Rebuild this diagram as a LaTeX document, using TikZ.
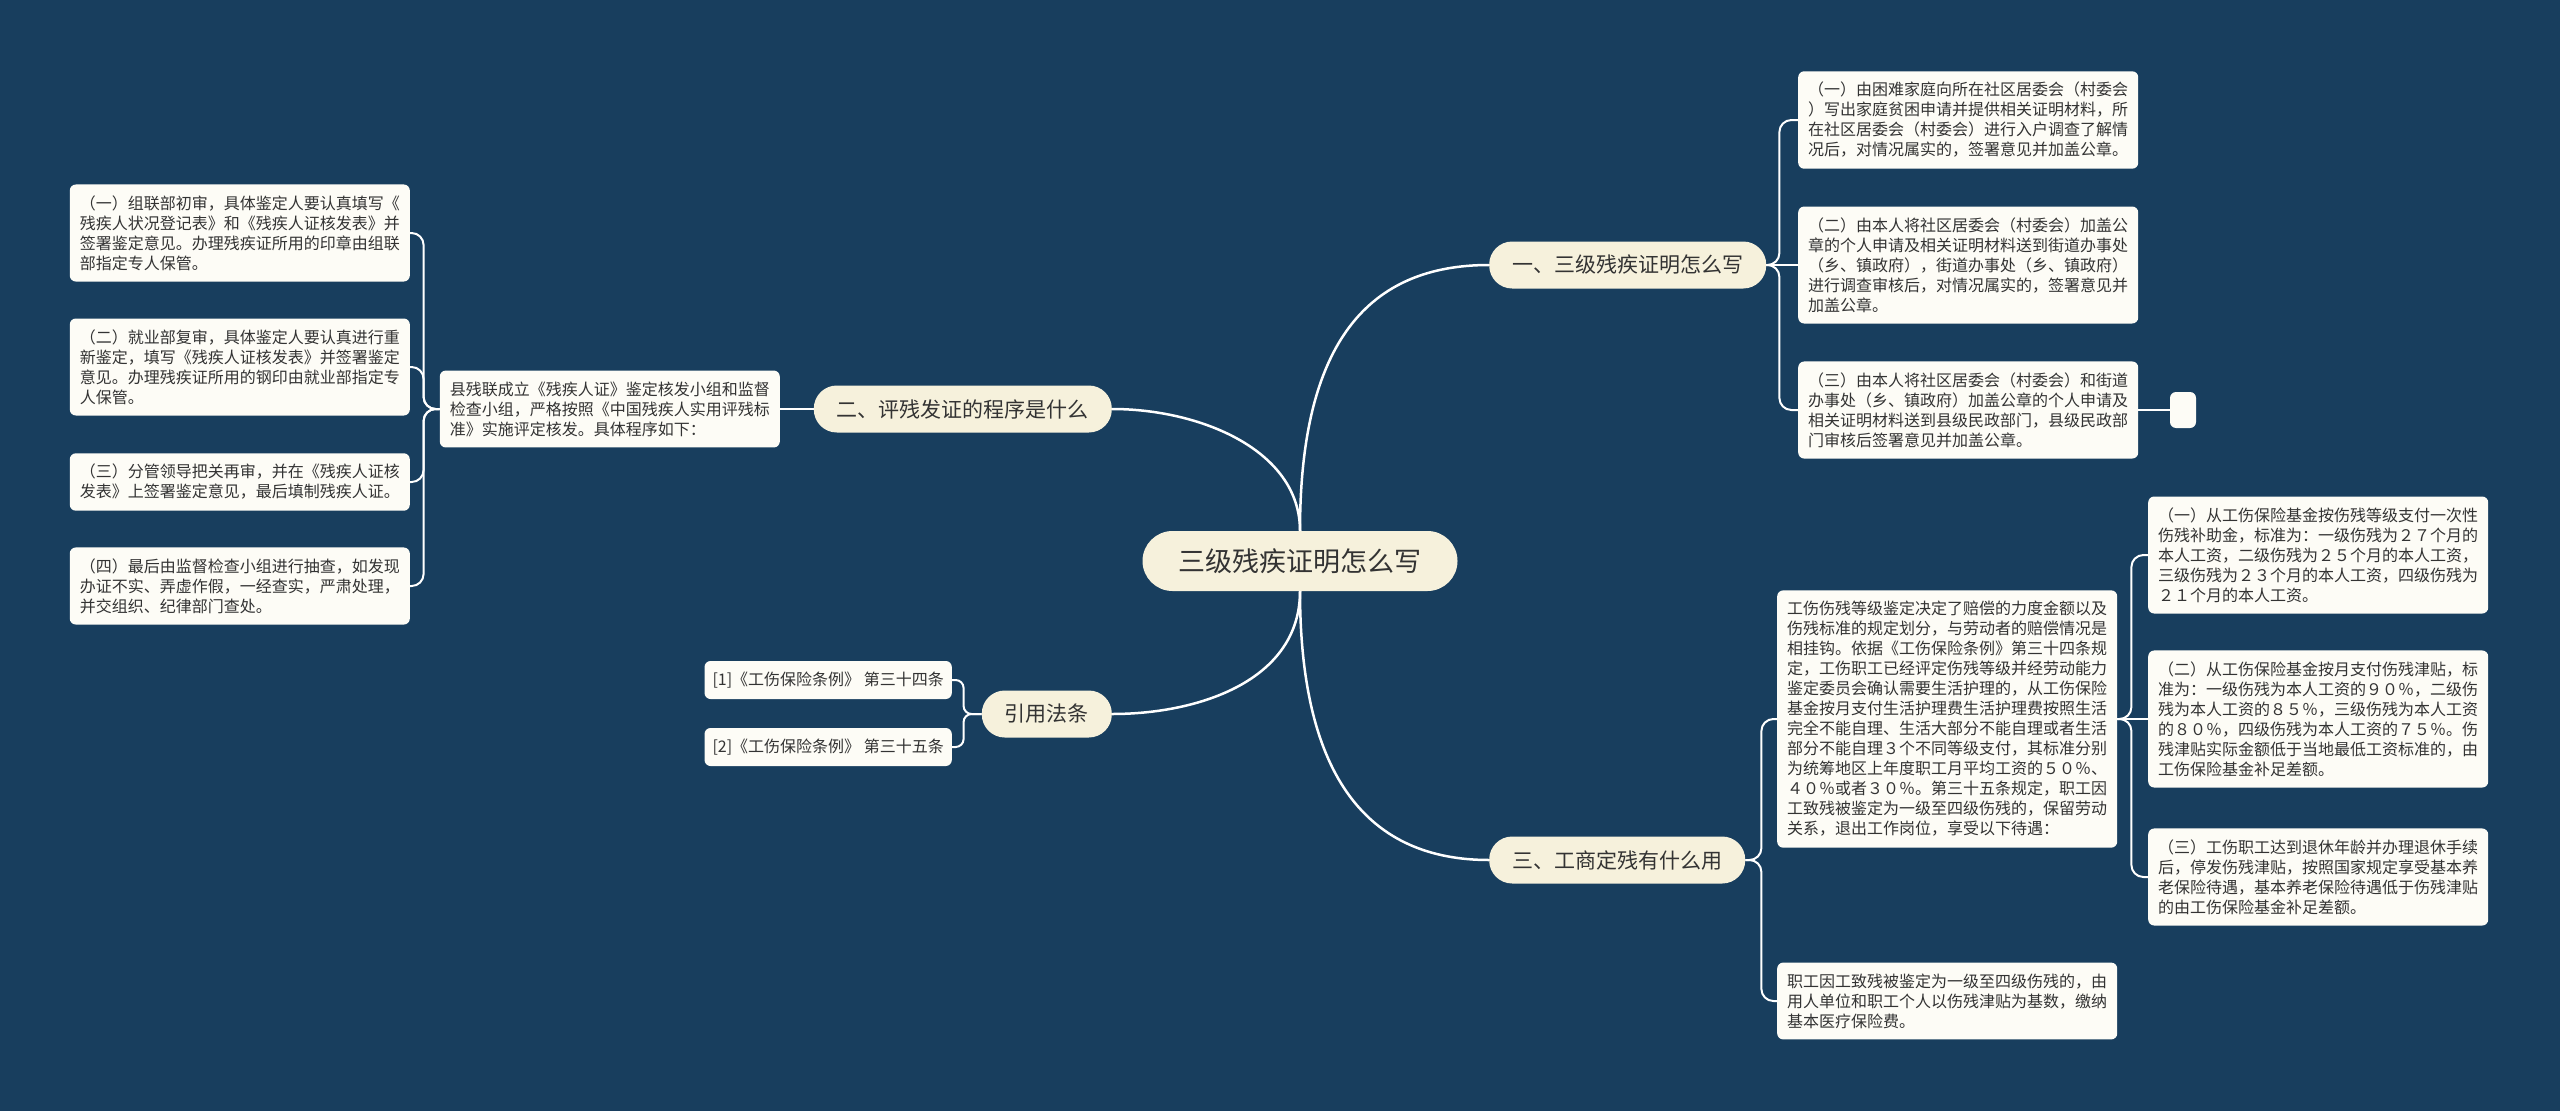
\documentclass[tikz,border=0pt]{standalone}
\usepackage{fontspec}
\setmainfont{Noto Sans CJK SC}
\definecolor{bgc}{HTML}{183E5E}
\definecolor{leafc}{HTML}{FDFCF6}
\definecolor{branchc}{HTML}{F6F1DC}
\definecolor{txt}{HTML}{333333}
\tikzset{
  leaf/.style={fill=leafc, rounded corners=6pt, inner xsep=10pt, inner ysep=11pt, align=left, text=txt, font=\fontsize{16}{20}\selectfont},
  ref/.style={fill=leafc, rounded corners=6pt, inner xsep=8pt, inner ysep=6pt, minimum height=38pt, text=txt, font=\fontsize{16}{20}\selectfont},
  branch/.style={fill=branchc, rounded corners=23pt, minimum height=47pt, inner xsep=23pt, text=txt, font=\fontsize{21}{25}\selectfont},
  rootnode/.style={fill=branchc, rounded corners=30pt, minimum height=60pt, inner xsep=36pt, text=txt, font=\fontsize{27}{32}\selectfont},
  conn/.style={draw=white, line width=2pt, rounded corners=12pt},
  trunk/.style={draw=white, line width=2.5pt}
}
\begin{document}
\begin{tikzpicture}[x=1pt,y=-1pt]
\fill[bgc] (0,0) rectangle (2560,1111);
\useasboundingbox (0,0) rectangle (2560,1111);

% root and branches
\node[rootnode] (root) at (1300,561) {三级残疾证明怎么写};
\node[branch, anchor=west] (b1) at (1489,265) {一、三级残疾证明怎么写};
\node[branch, anchor=east] (b2) at (1112,409) {二、评残发证的程序是什么};
\node[branch, anchor=east] (b3) at (1112,714) {引用法条};
\node[branch, anchor=west] (b4) at (1489,860) {三、工商定残有什么用};

% branch 1 children
\node[leaf, anchor=west] (c11) at (1798,120) {（一）由困难家庭向所在社区居委会（村委会\\）写出家庭贫困申请并提供相关证明材料，所\\在社区居委会（村委会）进行入户调查了解情\\况后，对情况属实的，签署意见并加盖公章。};
\node[leaf, anchor=west] (c12) at (1798,265) {（二）由本人将社区居委会（村委会）加盖公\\章的个人申请及相关证明材料送到街道办事处\\（乡、镇政府），街道办事处（乡、镇政府）\\进行调查审核后，对情况属实的，签署意见并\\加盖公章。};
\node[leaf, anchor=west] (c13) at (1798,410) {（三）由本人将社区居委会（村委会）和街道\\办事处（乡、镇政府）加盖公章的个人申请及\\相关证明材料送到县级民政部门，县级民政部\\门审核后签署意见并加盖公章。};
\node[fill=leafc, rounded corners=6pt, minimum width=26pt, minimum height=36pt, inner sep=0pt] (e1) at (2183,410) {};

% branch 2 children
\node[leaf, anchor=east] (c21) at (780,409) {县残联成立《残疾人证》鉴定核发小组和监督\\检查小组，严格按照《中国残疾人实用评残标\\准》实施评定核发。具体程序如下：};
\node[leaf, anchor=east] (c211) at (410,233) {（一）组联部初审，具体鉴定人要认真填写《\\残疾人状况登记表》和《残疾人证核发表》并\\签署鉴定意见。办理残疾证所用的印章由组联\\部指定专人保管。};
\node[leaf, anchor=east] (c212) at (410,367) {（二）就业部复审，具体鉴定人要认真进行重\\新鉴定，填写《残疾人证核发表》并签署鉴定\\意见。办理残疾证所用的钢印由就业部指定专\\人保管。};
\node[leaf, anchor=east] (c213) at (410,482) {（三）分管领导把关再审，并在《残疾人证核\\发表》上签署鉴定意见，最后填制残疾人证。};
\node[leaf, anchor=east] (c214) at (410,586) {（四）最后由监督检查小组进行抽查，如发现\\办证不实、弄虚作假，一经查实，严肃处理，\\并交组织、纪律部门查处。};

% branch 3 children
\node[ref, anchor=east] (r1) at (952,680) {[1]《工伤保险条例》 第三十四条};
\node[ref, anchor=east] (r2) at (952,747) {[2]《工伤保险条例》 第三十五条};

% branch 4 children
\node[leaf, anchor=west] (c41) at (1777,719) {工伤伤残等级鉴定决定了赔偿的力度金额以及\\伤残标准的规定划分，与劳动者的赔偿情况是\\相挂钩。依据《工伤保险条例》第三十四条规\\定，工伤职工已经评定伤残等级并经劳动能力\\鉴定委员会确认需要生活护理的，从工伤保险\\基金按月支付生活护理费生活护理费按照生活\\完全不能自理、生活大部分不能自理或者生活\\部分不能自理３个不同等级支付，其标准分别\\为统筹地区上年度职工月平均工资的５０％、\\４０％或者３０％。第三十五条规定，职工因\\工致残被鉴定为一级至四级伤残的，保留劳动\\关系，退出工作岗位，享受以下待遇：};
\node[leaf, anchor=west] (c42) at (1777,1001) {职工因工致残被鉴定为一级至四级伤残的，由\\用人单位和职工个人以伤残津贴为基数，缴纳\\基本医疗保险费。};
\node[leaf, anchor=west] (c411) at (2148,555) {（一）从工伤保险基金按伤残等级支付一次性\\伤残补助金，标准为：一级伤残为２７个月的\\本人工资，二级伤残为２５个月的本人工资，\\三级伤残为２３个月的本人工资，四级伤残为\\２１个月的本人工资。};
\node[leaf, anchor=west] (c412) at (2148,719) {（二）从工伤保险基金按月支付伤残津贴，标\\准为：一级伤残为本人工资的９０％，二级伤\\残为本人工资的８５％，三级伤残为本人工资\\的８０％，四级伤残为本人工资的７５％。伤\\残津贴实际金额低于当地最低工资标准的，由\\工伤保险基金补足差额。};
\node[leaf, anchor=west] (c413) at (2148,877) {（三）工伤职工达到退休年龄并办理退休手续\\后，停发伤残津贴，按照国家规定享受基本养\\老保险待遇，基本养老保险待遇低于伤残津贴\\的由工伤保险基金补足差额。};

% trunk connectors
\draw[trunk] (root.north) .. controls (1300,340) and (1370,265) .. (b1.west);
\draw[trunk] (root.north) .. controls (1300,450) and (1200,409) .. (b2.east);
\draw[trunk] (root.south) .. controls (1300,680) and (1200,714) .. (b3.east);
\draw[trunk] (root.south) .. controls (1300,780) and (1370,860) .. (b4.west);

% branch 1 connectors
\draw[conn] (b1.east) -- ++(13,0) |- (c11.west);
\draw[conn] (b1.east) -- (c12.west);
\draw[conn] (b1.east) -- ++(13,0) |- (c13.west);
\draw[conn] (c13.east) -- (e1.west);

% branch 2 connectors
\draw[conn] (b2.west) -- (c21.east);
\draw[conn] (c21.west) -- ++(-16,0) |- (c211.east);
\draw[conn] (c21.west) -- ++(-16,0) |- (c212.east);
\draw[conn] (c21.west) -- ++(-16,0) |- (c213.east);
\draw[conn] (c21.west) -- ++(-16,0) |- (c214.east);

% branch 3 connectors
\draw[conn, rounded corners=8pt] (b3.west) -- ++(-18,0) |- (r1.east);
\draw[conn, rounded corners=8pt] (b3.west) -- ++(-18,0) |- (r2.east);

% branch 4 connectors
\draw[conn] (b4.east) -- ++(16,0) |- (c41.west);
\draw[conn] (b4.east) -- ++(16,0) |- (c42.west);
\draw[conn] (c41.east) -- ++(14,0) |- (c411.west);
\draw[conn] (c41.east) -- (c412.west);
\draw[conn] (c41.east) -- ++(14,0) |- (c413.west);
\end{tikzpicture}
\end{document}
